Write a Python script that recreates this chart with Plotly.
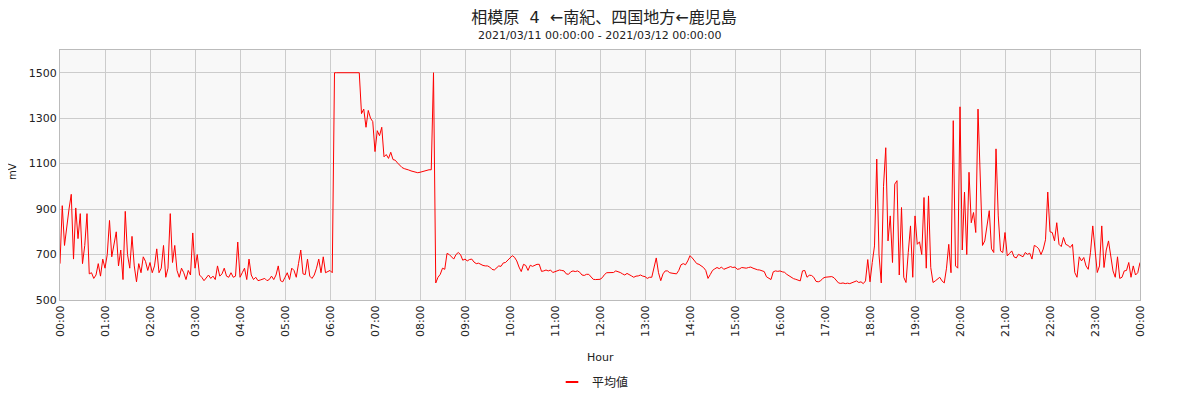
import pandas as pd
import plotly.graph_objects as go

# values every 3 minutes, 20 per hour (mV)
h00 = [660, 915, 740, 830, 900, 965, 680, 905, 770, 880, 660, 740, 880, 615, 620, 595, 610, 660, 605, 680]
h01 = [640, 700, 850, 690, 740, 800, 650, 720, 590, 890, 700, 640, 780, 650, 580, 660, 620, 690, 670, 630]
h02 = [665, 620, 650, 725, 620, 640, 740, 600, 640, 880, 665, 740, 630, 600, 640, 620, 590, 630, 610, 795]
h03 = [640, 700, 610, 600, 585, 600, 610, 595, 605, 590, 650, 605, 615, 640, 605, 600, 620, 600, 605, 755]
h04 = [600, 620, 640, 590, 680, 610, 590, 600, 585, 588, 590, 595, 585, 590, 605, 590, 610, 650, 585, 580]
h05 = [600, 620, 590, 640, 630, 600, 660, 720, 615, 612, 680, 605, 595, 610, 640, 680, 620, 690, 620, 625]
h06 = [630, 620, 1500, 1500, 1500, 1500, 1500, 1500, 1500, 1500, 1500, 1500, 1500, 1500, 1320, 1340, 1260, 1334, 1300, 1285]
h07 = [1153, 1245, 1223, 1260, 1130, 1140, 1123, 1150, 1118, 1115, 1103, 1092, 1083, 1078, 1076, 1072, 1068, 1065, 1062, 1060]
h08 = [1062, 1065, 1068, 1072, 1073, 1073, 1500, 575, 600, 613, 640, 635, 705, 700, 690, 680, 700, 709, 700, 675]
h09 = [680, 672, 678, 680, 667, 660, 662, 655, 652, 650, 650, 645, 635, 632, 643, 650, 648, 663, 665, 674]
h10 = [682, 695, 688, 672, 645, 625, 657, 652, 630, 653, 648, 653, 657, 657, 626, 628, 632, 628, 632, 621]
h11 = [625, 630, 632, 630, 628, 615, 613, 624, 628, 625, 628, 622, 610, 608, 613, 613, 600, 591, 590, 590]
h12 = [591, 598, 612, 620, 621, 620, 621, 628, 625, 621, 615, 610, 617, 613, 606, 600, 605, 606, 610, 605]
h13 = [603, 595, 600, 600, 650, 685, 620, 585, 615, 628, 628, 620, 618, 615, 615, 630, 655, 660, 655, 672]
h14 = [695, 685, 672, 660, 657, 650, 643, 630, 595, 612, 630, 637, 643, 638, 645, 635, 640, 645, 647, 643]
h15 = [645, 635, 637, 643, 640, 640, 643, 645, 640, 635, 633, 632, 628, 625, 602, 595, 590, 624, 628, 626]
h16 = [628, 624, 622, 613, 606, 598, 594, 591, 586, 584, 628, 630, 600, 609, 608, 600, 582, 580, 584, 595]
h17 = [600, 600, 602, 603, 598, 585, 575, 573, 575, 572, 574, 572, 577, 580, 584, 577, 580, 572, 584, 678]
h18 = [580, 665, 738, 1120, 700, 575, 1000, 1170, 760, 870, 665, 1010, 1025, 610, 907, 600, 577, 709, 826, 600]
h19 = [870, 745, 756, 700, 951, 640, 958, 643, 577, 584, 591, 600, 584, 575, 640, 745, 620, 1289, 650, 640]
h20 = [1350, 720, 975, 700, 1062, 840, 885, 797, 1340, 1000, 740, 760, 826, 893, 725, 709, 1165, 870, 716, 709]
h21 = [797, 694, 705, 716, 690, 685, 701, 694, 690, 709, 701, 706, 680, 740, 735, 725, 700, 724, 765, 975]
h22 = [800, 797, 760, 840, 745, 735, 775, 745, 740, 731, 745, 621, 600, 690, 672, 687, 650, 635, 710, 826]
h23 = [716, 621, 650, 826, 643, 720, 760, 694, 628, 600, 690, 595, 600, 628, 630, 665, 600, 650, 610, 620]
end_value = [665]

hours = [h00, h01, h02, h03, h04, h05, h06, h07, h08, h09, h10, h11,
         h12, h13, h14, h15, h16, h17, h18, h19, h20, h21, h22, h23]
values = [v for h in hours for v in h] + end_value
times = pd.date_range("2021-03-11 00:00:00", periods=len(values), freq="3min")

y_ticks = [500, 700, 900, 1100, 1300, 1500]

FONT = "DejaVu Sans, Noto Sans CJK JP, sans-serif"
CJK = "Noto Sans CJK JP, sans-serif"

fig = go.Figure()
fig.add_trace(go.Scatter(
    x=times, y=values, mode="lines", name="平均値", showlegend=False,
    line=dict(color="#ff0000", width=1),
))
# legend entry drawn as a short dash, like the reference
fig.add_trace(go.Scatter(
    x=[None], y=[None], mode="markers", name="平均値", showlegend=True,
    marker=dict(symbol="line-ew-open", size=9, color="#ff0000",
                line=dict(color="#ff0000", width=2)),
))

FIG_H = 392
fig.update_layout(
    width=1192, height=FIG_H,
    margin=dict(l=52, r=60, t=42, b=100, autoexpand=False),
    paper_bgcolor="white",
    plot_bgcolor="#f8f8f8",
    font=dict(family=FONT, size=11, color="#222"),
    title=dict(text="相模原  4  ←南紀、四国地方←鹿児島", x=0.5, xanchor="center",
               y=1 - 9.5 / FIG_H, yanchor="middle",
               font=dict(family=FONT, size=16, color="#222")),
    showlegend=True,
    legend=dict(orientation="h", x=0.5 - 7 / 1080, xanchor="center", y=-0.328, yanchor="middle",
                itemwidth=30,
                font=dict(family=CJK, size=12, color="#222")),
    annotations=[
        dict(text="2021/03/11 00:00:00 - 2021/03/12 00:00:00", xref="paper", yref="paper",
             x=0.5, y=(300 - 35.5) / 250, xanchor="center", yanchor="middle", showarrow=False,
             font=dict(family=FONT, size=11, color="#222")),
        dict(text="Hour", xref="paper", yref="paper", x=0.5, y=(300 - 357) / 250,
             xanchor="center", yanchor="middle", showarrow=False,
             font=dict(family=FONT, size=11, color="#222")),
        dict(text="mV", xref="paper", yref="paper", x=(12 - 60) / 1080, y=(300 - 172) / 250,
             xanchor="center", yanchor="middle", showarrow=False, textangle=-90,
             font=dict(family=FONT, size=10, color="#222")),
    ],
)

fig.update_xaxes(
    type="date",
    range=[times[0], times[-1]],
    dtick=3600000, tick0=times[0], tickformat="%H:%M", tickangle=-90,
    showgrid=True, gridcolor="#cccccc", gridwidth=1,
    showline=True, linecolor="#bbbbbb", mirror=True,
    ticks="", zeroline=False, automargin=False,
    tickfont=dict(family=FONT, size=11, color="#222"),
)
fig.update_yaxes(
    range=[500, 1600], tickvals=y_ticks,
    showgrid=True, gridcolor="#cccccc", gridwidth=1,
    showline=True, linecolor="#bbbbbb", mirror=True,
    ticks="", zeroline=False, automargin=False,
    tickfont=dict(family=FONT, size=11, color="#222"),
)

fig.write_html("out.html")
